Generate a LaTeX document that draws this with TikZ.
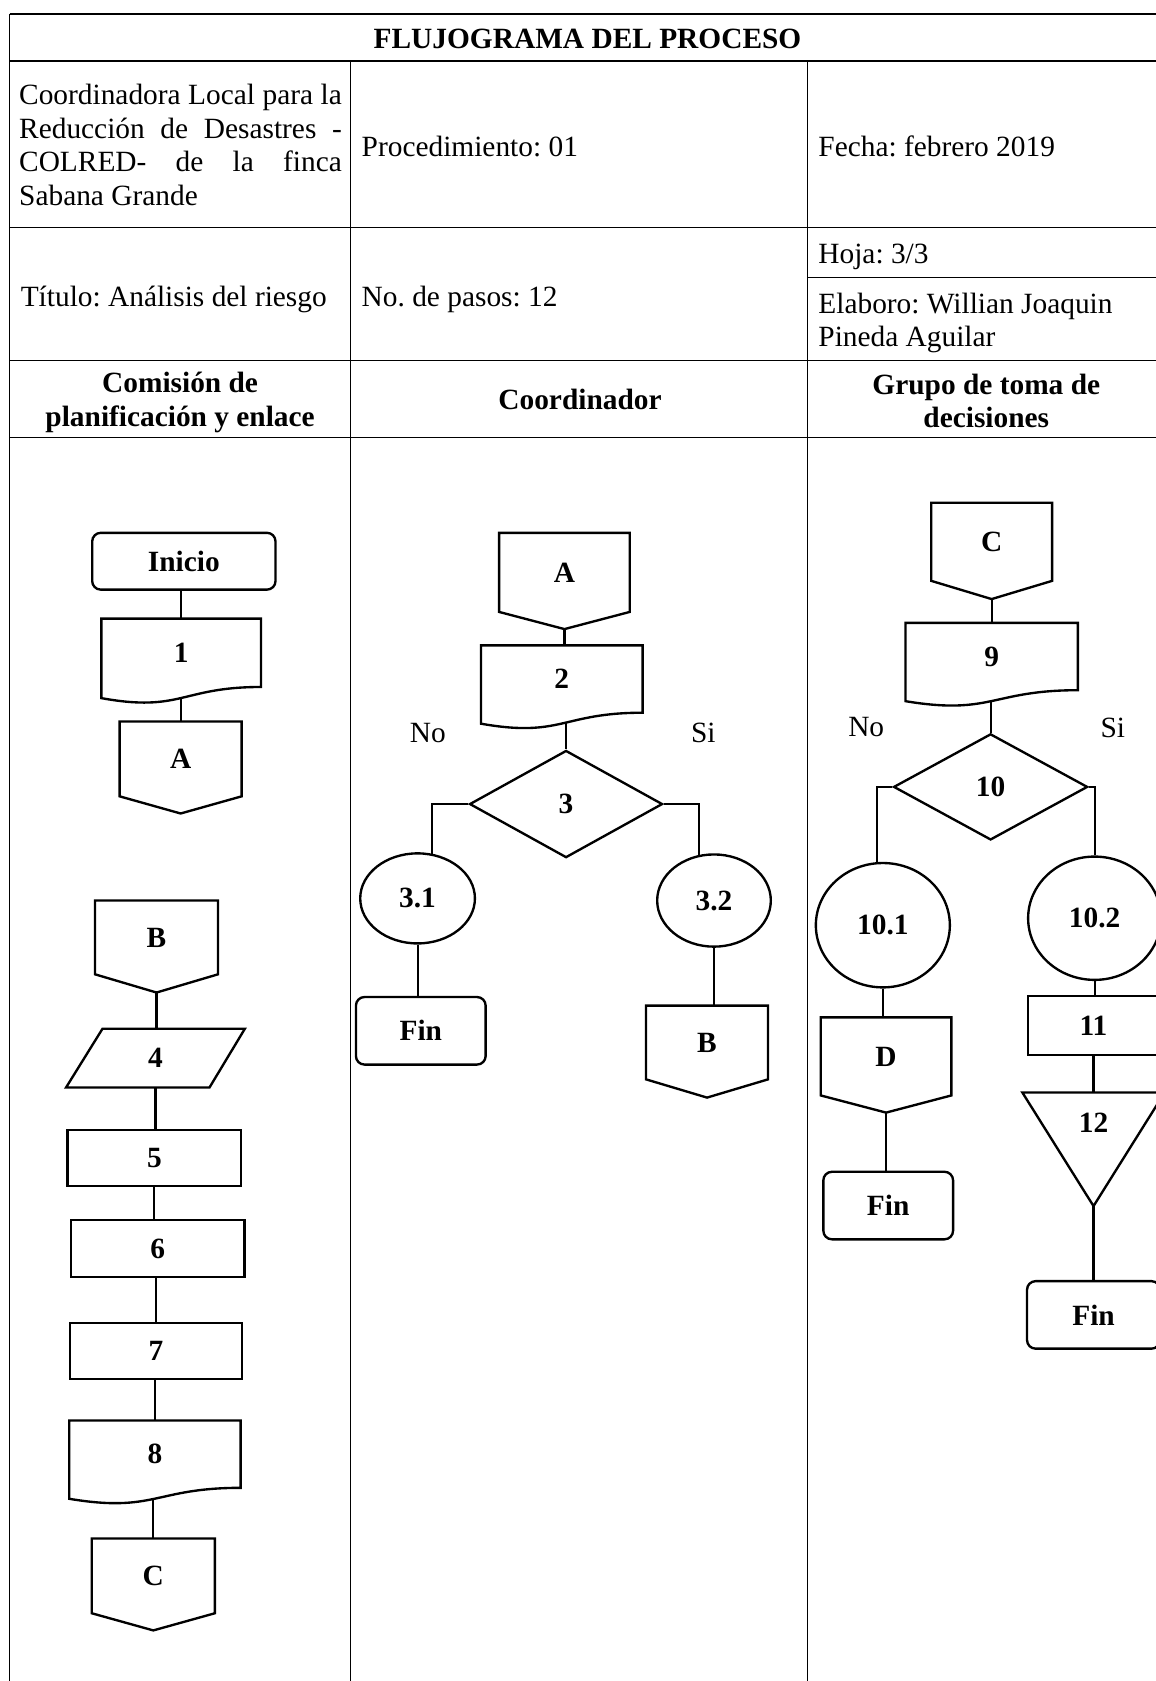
\documentclass[tikz,border=0pt]{standalone}
\usepackage{fontspec}
\setmainfont{Liberation Serif}
\usetikzlibrary{shapes.geometric,calc}
\pgfdeclarelayer{bg}
\pgfdeclarelayer{shp}
\pgfsetlayers{bg,shp,main}
\newcommand\fs{\fontsize{13.7pt}{15.8pt}\selectfont\frenchspacing}
\def\u{0.5pt}
\tikzset{
  tbl/.style={line width=0.6pt},
  shape line/.style={draw, line width=1.1pt, fill=white},
  con/.style={line width=1pt},
  lab/.style={inner sep=0pt, font=\fs\bfseries},
  rbox/.style={lab, shape line, rectangle},
  rrbox/.style={lab, shape line, rectangle, rounded corners=4pt},
  ebox/.style={lab, shape line, ellipse},
  dbox/.style={lab, shape line, diamond, aspect=1.8},
  txt/.style={inner sep=0pt, font=\fs},
  hdr/.style={inner sep=0pt, font=\fs\bfseries},
}
% off-page connector: name, cx, top, width, box height, point depth, label
\newcommand\offpg[7]{%
  \node[lab, minimum width=#4*\u, minimum height=#5*\u, anchor=north] (#1) at (#2,#3) {#7};
  \begin{pgfonlayer}{shp}
    \path[shape line] (#1.north west) -- (#1.north east) -- (#1.south east)
      -- ($(#1.south)+(0,#6)$) -- (#1.south west) -- cycle;
  \end{pgfonlayer}}
% document: name, cx, top, width, box height, label
\newcommand\docu[6]{%
  \node[lab, minimum width=#4*\u, minimum height=#5*\u, anchor=north] (#1) at (#2,#3) {#6};
  \begin{pgfonlayer}{shp}
    \path[shape line] (#1.north west) -- (#1.north east) -- (#1.south east)
      .. controls (#1.south) and ($(#1.south)+(0,0.38*#5)$) .. ($(#1.south west)+(0,0.165*#5)$) -- cycle;
  \end{pgfonlayer}}
\begin{document}
\begin{tikzpicture}[x=0.5pt,y=-0.5pt]
\useasboundingbox (0,0) rectangle (1078,1568);
% ---------- table ----------
\begin{pgfonlayer}{bg}
\draw[tbl] (9,13) -- (1078,13);
\draw[tbl] (9,13) -- (9,1568);
\draw[tbl] (9,57) -- (1078,57);
\draw[tbl] (327,57) -- (327,1568);
\draw[tbl] (753,57) -- (753,1568);
\draw[tbl] (9,212) -- (1078,212);
\draw[tbl] (753,259) -- (1078,259);
\draw[tbl] (9,336) -- (1078,336);
\draw[tbl] (9,408) -- (1078,408);
\end{pgfonlayer}
\node[hdr, anchor=base] (ttl) at (548,45) {FLUJOGRAMA DEL PROCESO};
\node[txt, anchor=base west] (t1) at (17.5,97.5) {\makebox[150.5pt][s]{Coordinadora Local para la}};
\node[txt, anchor=base west] (t2) at (17.5,128.8) {\makebox[150.5pt][s]{Reducción de Desastres -}};
\node[txt, anchor=base west] (t3) at (17.5,160.1) {\makebox[150.5pt][s]{COLRED- de la finca}};
\node[txt, anchor=base west] (t4) at (17.5,191.4) {Sabana Grande};
\node[txt, anchor=base west] (t5) at (337,146) {Procedimiento: 01};
\node[txt, anchor=base west] (t6) at (763,146) {Fecha: febrero 2019};
\node[txt, anchor=base west] (t7) at (19,286) {Título: Análisis del riesgo};
\node[txt, anchor=base west] (t8) at (337,286) {No. de pasos: 12};
\node[txt, anchor=base west] (t9) at (763,246) {Hoja: 3/3};
\node[txt, anchor=base west] (t10) at (763,292) {Elaboro: Willian Joaquin};
\node[txt, anchor=base west] (t11) at (763,323.5) {Pineda Aguilar};
\node[hdr, anchor=base] (h1) at (168,366) {Comisión de};
\node[hdr, anchor=base] (h2) at (168,398) {planificación y enlace};
\node[hdr, anchor=base] (h3) at (541,382) {Coordinador};
\node[hdr, anchor=base] (h4) at (920,368) {Grupo de toma de};
\node[hdr, anchor=base] (h5) at (920,399) {decisiones};
% ---------- column 1 ----------
\node[rrbox, minimum width=171*\u, minimum height=53*\u] (ini) at (171.5,523.5) {Inicio};
\docu{d1}{169}{577}{148}{63}{1}
\offpg{A1}{168.5}{673}{113}{69}{16}{A}
\offpg{B1}{146}{840}{114}{68}{17}{B}
\node[lab, minimum width=166*\u, minimum height=54*\u] (p4) at (145,987) {4};
\begin{pgfonlayer}{shp}
\path[shape line] ($(p4.north west)+(34,0)$) -- (p4.north east) -- ($(p4.south east)+(-33,0)$) -- (p4.south west) -- cycle;
\end{pgfonlayer}
\node[rbox, minimum width=162*\u, minimum height=52*\u] (r5) at (144,1080) {5};
\node[rbox, minimum width=162*\u, minimum height=53*\u] (r6) at (147,1164.5) {6};
\node[rbox, minimum width=161*\u, minimum height=52*\u] (r7) at (145.5,1260) {7};
\docu{d8}{144.5}{1325}{159}{62}{8}
\offpg{C1}{143}{1435}{114}{69}{16}{C}
% ---------- column 2 ----------
\offpg{A2}{526.5}{497}{121}{73}{16}{A}
\docu{d2}{524}{602}{150}{62}{2}
\node[dbox, minimum width=180*\u, minimum height=100*\u] (d3) at (528,750) {3};
\node[ebox, minimum width=107*\u, minimum height=84*\u] (c31) at (389.5,838) {3.1};
\node[ebox, minimum width=106*\u, minimum height=86*\u] (c32) at (666,840) {3.2};
\node[rrbox, minimum width=121*\u, minimum height=63*\u] (f2) at (392.5,961.5) {Fin};
\offpg{B2}{659.5}{938}{113}{68}{17}{B}
\node[txt] (no1) at (399,684) {No};
\node[txt] (si1) at (656,684) {Si};
% ---------- column 3 ----------
\offpg{C3}{925}{469}{112}{72}{17}{C}
\docu{d9}{925}{581}{160}{62}{9}
\node[dbox, minimum width=181*\u, minimum height=99*\u] (d10) at (924,734) {10};
\node[ebox, minimum width=125*\u, minimum height=116*\u] (c101) at (823.5,863) {10.1};
\node[ebox, minimum width=124*\u, minimum height=115*\u] (c102) at (1021,856.5) {10.2};
\offpg{D}{826.5}{949}{121}{72}{16}{D}
\node[rrbox, minimum width=121*\u, minimum height=63*\u] (f3) at (828.5,1124.5) {Fin};
\node[rbox, minimum width=122*\u, minimum height=55*\u] (r11) at (1020,956.5) {11};
\node[lab, minimum width=132*\u, minimum height=56*\u, anchor=north] (t12) at (1020,1019) {12};
\begin{pgfonlayer}{shp}
\path[shape line] (t12.north west) -- (t12.north east) -- ($(t12.north)+(0,106)$) -- cycle;
\end{pgfonlayer}
\node[rrbox, minimum width=124*\u, minimum height=63*\u] (f4) at (1020,1226.5) {Fin};
\node[txt] (no2) at (808,678) {No};
\node[txt] (si2) at (1038,679) {Si};
% ---------- connectors ----------
\begin{pgfonlayer}{bg}
\draw[con] (d1.north |- ini.south) -- (d1.north);
\draw[con] (A1.north |- d1.south) -- (A1.north);
\draw[con] (B1.south) -- (B1.south |- p4.north);
\draw[con] (p4.south) -- (p4.south |- r5.north);
\draw[con] (r5.south) -- (r5.south |- r6.north);
\draw[con] (r7.north |- r6.south) -- (r7.north);
\draw[con] (d8.north |- r7.south) -- (d8.north);
\draw[con] (C1.north |- d8.south) -- (C1.north);
\draw[con] (A2.south) -- (A2.south |- d2.north);
\draw[con] (d3.north |- d2.south) -- (d3.north);
\draw[con] (d3.west) -| (c31.72);
\draw[con] (d3.east) -| (c32.108);
\draw[con] (c31.south) -- (c31.south |- f2.north);
\draw[con] (c32.south) -- (c32.south |- B2.north);
\draw[con] (C3.south) -- (C3.south |- d9.north);
\draw[con] (d10.north |- d9.south) -- (d10.north);
\draw[con] (d10.west) -| (c101.95);
\draw[con] (d10.east) -| (c102.north);
\draw[con] (c101.south) -- (c101.south |- D.north);
\draw[con] (D.south) -- (D.south |- f3.north);
\draw[con] (c102.south) -- (c102.south |- r11.north);
\draw[con] (t12.north |- r11.south) -- (t12.north);
\draw[con] (t12.south) -- (t12.south |- f4.north);
\end{pgfonlayer}
\end{tikzpicture}
\end{document}
